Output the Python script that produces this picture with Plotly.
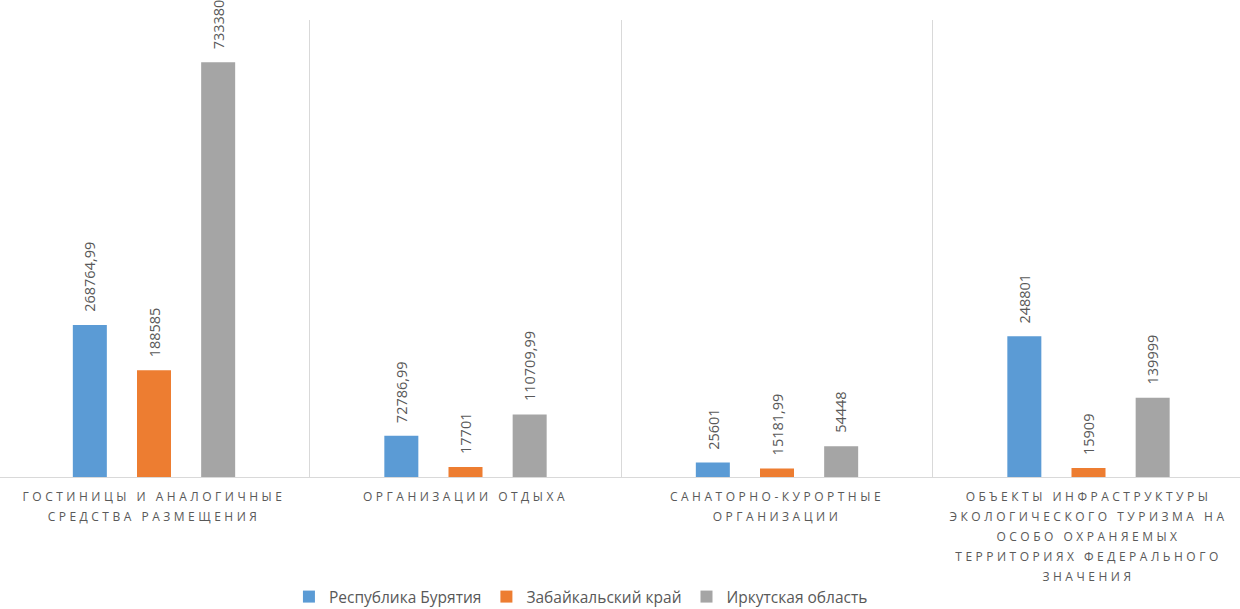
import plotly.graph_objects as go

categories = [
    "ГОСТИНИЦЫ И АНАЛОГИЧНЫЕ<br>СРЕДСТВА РАЗМЕЩЕНИЯ",
    "ОРГАНИЗАЦИИ ОТДЫХА",
    "САНАТОРНО-КУРОРТНЫЕ<br>ОРГАНИЗАЦИИ",
    "ОБЪЕКТЫ ИНФРАСТРУКТУРЫ<br>ЭКОЛОГИЧЕСКОГО ТУРИЗМА НА<br>ОСОБО ОХРАНЯЕМЫХ<br>ТЕРРИТОРИЯХ ФЕДЕРАЛЬНОГО<br>ЗНАЧЕНИЯ",
]
series_names = ["Республика Бурятия", "Забайкальский край", "Иркутская область"]
buryatia = [268764.99, 72786.99, 25601, 248801]
zabaikalsky = [188585, 17701, 15181.99, 15909]
irkutsk = [733380, 110709.99, 54448, 139999]
buryatia_labels = ["268764,99", "72786,99", "25601", "248801"]
zabaikalsky_labels = ["188585", "17701", "15181,99", "15909"]
irkutsk_labels = ["733380", "110709,99", "54448", "139999"]

colors = ["#5B9BD5", "#ED7D31", "#A5A5A5"]
values = [buryatia, zabaikalsky, irkutsk]
labels = [buryatia_labels, zabaikalsky_labels, irkutsk_labels]

W, H = 1240, 609
ML, MR, MT, MB = 0, 0, 20, 132
cat_px = 311.5
first_center_px = 154
bargap = 0.382
bargroupgap = 0.47
x0 = -first_center_px / cat_px
x1 = x0 + (W - ML - MR) / cat_px
slot_px = cat_px * (1 - bargap) / 3
ymax = (H - MT - MB) * 1768

fig = go.Figure()
for i, (name, vals) in enumerate(zip(series_names, values)):
    fig.add_trace(go.Bar(
        x=categories, y=vals, name=name,
        marker=dict(color=colors[i], line=dict(width=0)),
        hoverinfo="skip",
    ))
    for c, v, t in zip(categories, vals, labels[i]):
        fig.add_annotation(
            x=c, y=v, xref="x", yref="y", text=t, showarrow=False,
            textangle=-90, xanchor="center", yanchor="bottom",
            xshift=(i - 1) * slot_px, yshift=11,
            font=dict(family="Open Sans", size=14.5, color="#595959"),
        )

fig.update_layout(
    width=W, height=H,
    margin=dict(l=ML, r=MR, t=MT, b=MB, autoexpand=False),
    paper_bgcolor="white", plot_bgcolor="white",
    barmode="group", bargap=bargap, bargroupgap=bargroupgap,
    showlegend=True,
    legend=dict(
        orientation="h", x=0.4685, xanchor="center", y=-0.2254, yanchor="top",
        font=dict(family="Open Sans", size=15.5, color="#595959"),
        itemwidth=30, traceorder="normal",
    ),
    xaxis=dict(
        type="category", range=[x0, x1], tickson="boundaries",
        showgrid=True, gridcolor="#d9d9d9", gridwidth=1,
        showline=True, linecolor="#d9d9d9", linewidth=1,
        ticks="", ticklabelstandoff=9, automargin=False,
        tickfont=dict(family="Open Sans", size=12, color="#595959"),
        fixedrange=True,
    ),
    yaxis=dict(
        range=[0, ymax], visible=False, showgrid=False, zeroline=False,
        fixedrange=True, automargin=False,
    ),
)

post = """
document.body.style.margin = '0';
document.body.style.overflow = 'hidden';
var gd = document.getElementById('{plot_id}');
function fixLabels(){
  gd.querySelectorAll('.xtick text').forEach(function(t){
    t.style.letterSpacing = '3.5px';
    t.querySelectorAll('tspan.line').forEach(function(s, i){
      s.setAttribute('dy', (i * 1.65) + 'em');
    });
  });
}
fixLabels();
if (gd.on) { gd.on('plotly_afterplot', fixLabels); }
"""

fig.write_html("out.html", post_script=post, config={"displayModeBar": False})
